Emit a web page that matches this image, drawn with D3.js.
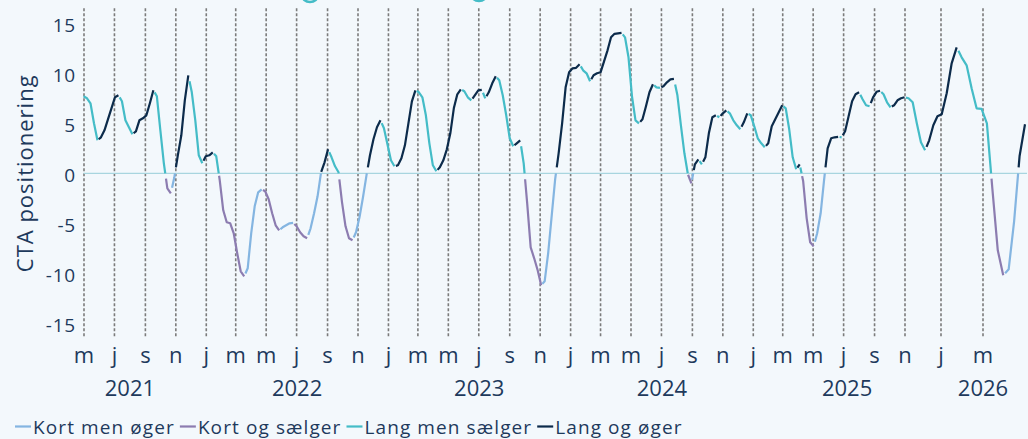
<!DOCTYPE html>
<html>
<head>
<meta charset="utf-8">
<script src="https://cdn.jsdelivr.net/npm/d3@7"></script>
<style>
  body { margin: 0; background: #f3f8fc; }
  svg { display: block; font-family: "Open Sans", sans-serif; }
</style>
</head>
<body>
<div id="chart"></div>
<script>
// weekly CTA positioning (fridays), one array per year
var weekStart = ["2021-04-30", "2022-01-07", "2023-01-06", "2024-01-05", "2025-01-03", "2026-01-02"];

var values2021 = [7.7, 7.5, 7.0, 5.0, 3.3, 3.6, 4.3, 5.4, 6.5, 7.6,
  7.8, 7.2, 5.3, 4.6, 3.9, 4.2, 5.3, 5.5, 5.8, 7.0,
  8.3, 7.7, 4.3, 1.0, -1.5, -2.0, -0.4, 1.8, 3.8, 7.3,
  9.8, 8.1, 5.3, 1.8, 1.0, 1.7];
var values2022 = [1.8, 2.1, 1.7, -0.7, -3.7, -4.9, -5.0, -6.0, -8.0, -9.8,
  -10.3, -9.5, -6.0, -3.3, -1.9, -1.6, -1.8, -2.6, -4.0, -5.2,
  -5.7, -5.4, -5.2, -5.0, -4.95, -5.3, -5.9, -6.3, -6.5, -5.5,
  -4.0, -2.3, 0.1, 1.1, 2.4, 1.6, 0.7, 0.1, -2.9, -5.3,
  -6.5, -6.7, -5.9, -4.4, -2.4, -0.2, 1.8, 3.4, 4.6, 5.3,
  4.5, 2.9];
var values2023 = [1.3, 0.7, 0.8, 1.5, 2.8, 5.0, 7.2, 8.3, 8.1, 7.6,
  5.8, 3.0, 0.8, 0.2, 0.6, 1.3, 2.4, 4.0, 6.5, 7.9,
  8.4, 8.2, 7.6, 7.3, 7.8, 8.3, 8.35, 7.5, 8.1, 9.0,
  9.7, 9.3, 7.8, 5.8, 3.5, 2.7, 3.0, 3.3, 1.0, -3.0,
  -7.4, -8.5, -9.7, -11.2, -10.8, -8.0, -4.3, -0.6, 2.0, 5.0,
  8.6, 10.1];
var values2024 = [10.5, 10.55, 10.9, 10.3, 10.0, 9.2, 9.8, 10.0, 10.1, 11.2,
  12.3, 13.6, 13.95, 14.0, 14.05, 13.6, 11.6, 7.7, 5.3, 5.0,
  5.4, 6.7, 8.1, 8.9, 8.6, 8.55, 8.7, 9.1, 9.4, 9.45,
  7.8, 4.8, 2.0, -0.1, -1.0, 0.9, 1.4, 0.9, 1.6, 4.0,
  5.6, 5.8, 5.6, 6.0, 6.3, 6.0, 5.3, 4.8, 4.4, 5.1,
  6.0, 5.8];
var values2025 = [4.7, 3.5, 3.0, 2.6, 3.0, 4.7, 5.4, 6.1, 6.8, 6.5,
  4.4, 1.6, 0.4, 0.9, -0.8, -4.5, -6.9, -7.3, -6.0, -4.0,
  -0.6, 2.5, 3.5, 3.6, 3.65, 3.6, 4.2, 5.7, 7.2, 7.9,
  8.1, 7.4, 6.8, 6.7, 7.6, 8.15, 8.25, 7.9, 7.1, 6.6,
  6.8, 7.3, 7.5, 7.6, 7.5, 7.1, 5.0, 3.1, 2.3, 3.3,
  4.8, 5.7];
var values2026 = [5.9, 8.0, 11.0, 12.6, 11.6, 10.8, 8.5, 6.5, 6.45, 5.0,
  -1.5, -7.7, -10.2, -9.6, -4.8, 1.7, 4.9];

var seriesNames = ["Kort men øger", "Kort og sælger", "Lang men sælger", "Lang og øger"];
var seriesColors = ["#84b5e1", "#8c7cb0", "#44bcc7", "#0c2b4b"];

var yTicks = [-15, -10, -5, 0, 5, 10, 15];
var monthLetters = ["j", "f", "m", "a", "m", "j", "j", "a", "s", "o", "n", "d"];
var yearLabels = ["2021", "2022", "2023", "2024", "2025", "2026"];
var yearLabelDates = ["2021-08-01", "2022-07-02", "2023-07-02", "2024-07-02", "2025-07-08", "2026-03-01"];

// layout
var W = 1028, H = 439;
var textColor = "#1e3a5c";
var parseDate = d3.timeParse("%Y-%m-%d");

var data = [];
[values2021, values2022, values2023, values2024, values2025, values2026].forEach(function(vals, j){
  var start = parseDate(weekStart[j]);
  vals.forEach(function(v, i){
    data.push({date: d3.timeDay.offset(start, 7 * i), value: v});
  });
});

// the axis gets wider per month at the end, so a piecewise time scale
var x = d3.scaleTime()
  .domain([parseDate("2021-04-30"), parseDate("2025-11-01"), parseDate("2026-01-01"), parseDate("2026-03-01"), parseDate("2026-04-24")])
  .range([83.5, 905, 941, 983, 1025]);
var y = d3.scaleLinear().domain([-16.5, 16.5]).range([338.3, 8.3]);

var svg = d3.select("#chart").append("svg")
  .attr("width", W)
  .attr("height", H);

svg.append("rect").attr("width", W).attr("height", H).style("fill", "#f3f8fc");

// bits of the header that stick in from above
svg.append("path")
  .attr("d", "M302,-5 A8,7 0 0,0 318,-5")
  .style("fill", "none").style("stroke", "#44bcc7").style("stroke-width", 2.5);
svg.append("path")
  .attr("d", "M471,-6 A8,7 0 0,0 487,-6")
  .style("fill", "none").style("stroke", "#44bcc7").style("stroke-width", 2.5);

// month gridlines
var monthTicks = d3.timeMonth.every(2).range(x.domain()[0], x.domain()[x.domain().length - 1]);

svg.append("g").selectAll("line")
  .data(monthTicks)
  .enter()
  .append("line")
  .attr("x1", function(d){ return x(d); })
  .attr("x2", function(d){ return x(d); })
  .attr("y1", y.range()[1])
  .attr("y2", y.range()[0])
  .style("stroke", "#7b7b7b")
  .style("stroke-width", 1.6)
  .style("stroke-dasharray", "3,2");

// zero line
svg.append("line")
  .attr("x1", x.range()[0])
  .attr("x2", 1027)
  .attr("y1", y(0))
  .attr("y2", y(0))
  .style("stroke", "#a8d5df")
  .style("stroke-width", 1.2);

// y labels
svg.append("g").selectAll("text")
  .data(yTicks)
  .enter()
  .append("text")
  .attr("x", 76)
  .attr("y", function(d){ return y(d) + 9; })
  .attr("text-anchor", "end")
  .style("font-size", "19px")
  .style("letter-spacing", "0.8px")
  .style("fill", textColor)
  .text(function(d){ return String(d); });

svg.append("text")
  .attr("transform", "translate(33," + y(0) + ") rotate(-90)")
  .attr("text-anchor", "middle")
  .style("font-size", "22px")
  .style("letter-spacing", "1px")
  .style("fill", textColor)
  .text("CTA positionering");

// x labels
svg.append("g").selectAll("text")
  .data(monthTicks)
  .enter()
  .append("text")
  .attr("x", function(d){ return x(d); })
  .attr("y", 363)
  .attr("text-anchor", "middle")
  .style("font-size", "22px")
  .style("fill", textColor)
  .text(function(d){ return monthLetters[d.getMonth()]; });

svg.append("g").selectAll("text")
  .data(yearLabels)
  .enter()
  .append("text")
  .attr("x", function(d, i){ return x(parseDate(yearLabelDates[i])); })
  .attr("y", 395.5)
  .attr("text-anchor", "middle")
  .style("font-size", "22px")
  .style("fill", textColor)
  .text(function(d){ return d; });

// split the line in pieces: short/long and rising/falling, cut where it crosses zero
function category(neg, up){
  if (neg) return up ? 0 : 1;
  return up ? 3 : 2;
}

var pieces = [];
for (var i = 1; i < data.length; i++){
  var a = data[i - 1], b = data[i];
  var up = b.value > a.value;
  if ((a.value < 0) !== (b.value < 0) && a.value !== 0 && b.value !== 0){
    var t = a.value / (a.value - b.value);
    var cross = {date: new Date(+a.date + t * (b.date - a.date)), value: 0};
    pieces.push({from: a, to: cross, cat: category(a.value < 0, up)});
    pieces.push({from: cross, to: b, cat: category(b.value < 0, up)});
  }
  else pieces.push({from: a, to: b, cat: category(b.value < 0, up)});
}

var runs = [];
pieces.forEach(function(p){
  var last = runs[runs.length - 1];
  if (last && last.cat === p.cat) last.points.push(p.to);
  else runs.push({cat: p.cat, points: [p.from, p.to]});
});

var line = d3.line()
  .x(function(d){ return x(d.date); })
  .y(function(d){ return y(d.value); });

svg.append("g").selectAll("path")
  .data(runs)
  .enter()
  .append("path")
  .attr("d", function(d){ return line(d.points); })
  .style("fill", "none")
  .style("stroke", function(d){ return seriesColors[d.cat]; })
  .style("stroke-width", 2.2)
  .style("stroke-linejoin", "round")
  .style("stroke-dasharray", function(d, i){
    if (i === 0) return null;
    // small gap where the colour changes
    var p0 = d.points[0], p1 = d.points[1];
    var len = Math.hypot(x(p1.date) - x(p0.date), y(p1.value) - y(p0.value));
    var gap = Math.max(1.5, Math.min(len * 0.35, 6));
    return "0," + gap + ",100000";
  });

// legend
var legend = svg.append("g");
var lx = 15;
seriesNames.forEach(function(name, i){
  legend.append("line")
    .attr("x1", lx).attr("x2", lx + 16)
    .attr("y1", 426.5).attr("y2", 426.5)
    .style("stroke", seriesColors[i])
    .style("stroke-width", 2.2);
  var t = legend.append("text")
    .attr("x", lx + 18)
    .attr("y", 433.5)
    .style("font-size", "19px")
    .style("letter-spacing", "1.1px")
    .style("fill", textColor)
    .text(name);
  lx = lx + 18 + t.node().getComputedTextLength() + 5;
});
</script>
</body>
</html>
